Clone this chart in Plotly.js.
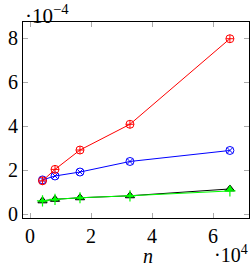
<!DOCTYPE html>
<html><head><meta charset="utf-8">
<script src="https://cdn.plot.ly/plotly-3.0.1.min.js"></script>
<style>html,body{margin:0;padding:0;background:#fff}#c{width:250px;height:270px}</style>
</head><body><div id="c"></div>
<script>
const nVals = [0.4096, 0.8192, 1.6384, 3.2768, 6.5536];
const redVals = [1.51, 2.03, 2.91, 4.08, 7.97];
const blueVals = [1.55, 1.73, 1.91, 2.39, 2.89];
const blackVals = [0.60, 0.67, 0.74, 0.83, 1.14];
const greenVals = [0.60, 0.67, 0.74, 0.83, 1.05];
const xTicks = [0, 2, 4, 6];
const yTicks = [0, 2, 4, 6, 8];

const serif = "'Liberation Serif', 'Times New Roman', serif";
const traces = [
  {x: nVals, y: blackVals, mode: 'lines+markers', line: {color: '#000', width: 1},
   marker: {symbol: 'triangle-up', size: 8, color: '#00ff00', line: {color: '#000', width: 1}}},
  {x: nVals, y: greenVals, mode: 'lines+markers', line: {color: '#00ff00', width: 1},
   marker: {symbol: 'cross-thin-open', size: 8, color: '#00ff00', line: {color: '#00ff00', width: 1.2}}},
  {x: nVals, y: blueVals, mode: 'lines+markers', line: {color: '#0000ff', width: 1},
   marker: {symbol: 'circle-x-open', size: 8, color: '#0000ff', line: {width: 1}}},
  {x: nVals, y: redVals, mode: 'lines+markers', line: {color: '#ff0000', width: 1},
   marker: {symbol: 'circle-cross-open', size: 8, color: '#ff0000', line: {width: 1}}}
];
const layout = {
  width: 250, height: 270,
  margin: {l: 23, r: 1, t: 22, b: 52},
  showlegend: false,
  paper_bgcolor: '#fff', plot_bgcolor: '#fff',
  font: {family: serif, size: 20, color: '#000'},
  xaxis: {range: [-0.23, 7.18], tickvals: xTicks, ticktext: xTicks.map(String),
    ticks: 'inside', ticklen: 5, tickcolor: '#aaa', tickwidth: 1, mirror: 'ticks',
    showline: true, linecolor: '#000', linewidth: 1, showgrid: false, zeroline: false,
    tickfont: {family: serif, size: 20, color: '#000'}},
  yaxis: {range: [-0.18, 8.73], tickvals: yTicks, ticktext: yTicks.map(String),
    ticks: 'inside', ticklen: 5, tickcolor: '#aaa', tickwidth: 1, mirror: 'ticks',
    showline: true, linecolor: '#000', linewidth: 1, showgrid: false, zeroline: false,
    tickfont: {family: serif, size: 20, color: '#000'}},
  annotations: [
    {text: '·10<sup>−4</sup>', xref: 'paper', yref: 'paper', x: 0.0, y: 1.0, xanchor: 'left', yanchor: 'bottom',
     showarrow: false, font: {family: serif, size: 21, color: '#000'}, yshift: -8},
    {text: '<i>n</i>', xref: 'paper', yref: 'paper', x: 0.5, y: 0, xanchor: 'center', yanchor: 'top',
     showarrow: false, font: {family: serif, size: 20, color: '#000'}, yshift: -25, xshift: 12},
    {text: '·10<sup>4</sup>', xref: 'paper', yref: 'paper', x: 1.0, y: 0, xanchor: 'right', yanchor: 'top',
     showarrow: false, font: {family: serif, size: 20, color: '#000'}, yshift: -22, xshift: 1}
  ]
};
Plotly.newPlot('c', traces, layout, {displayModeBar: false, staticPlot: true});
</script></body></html>
